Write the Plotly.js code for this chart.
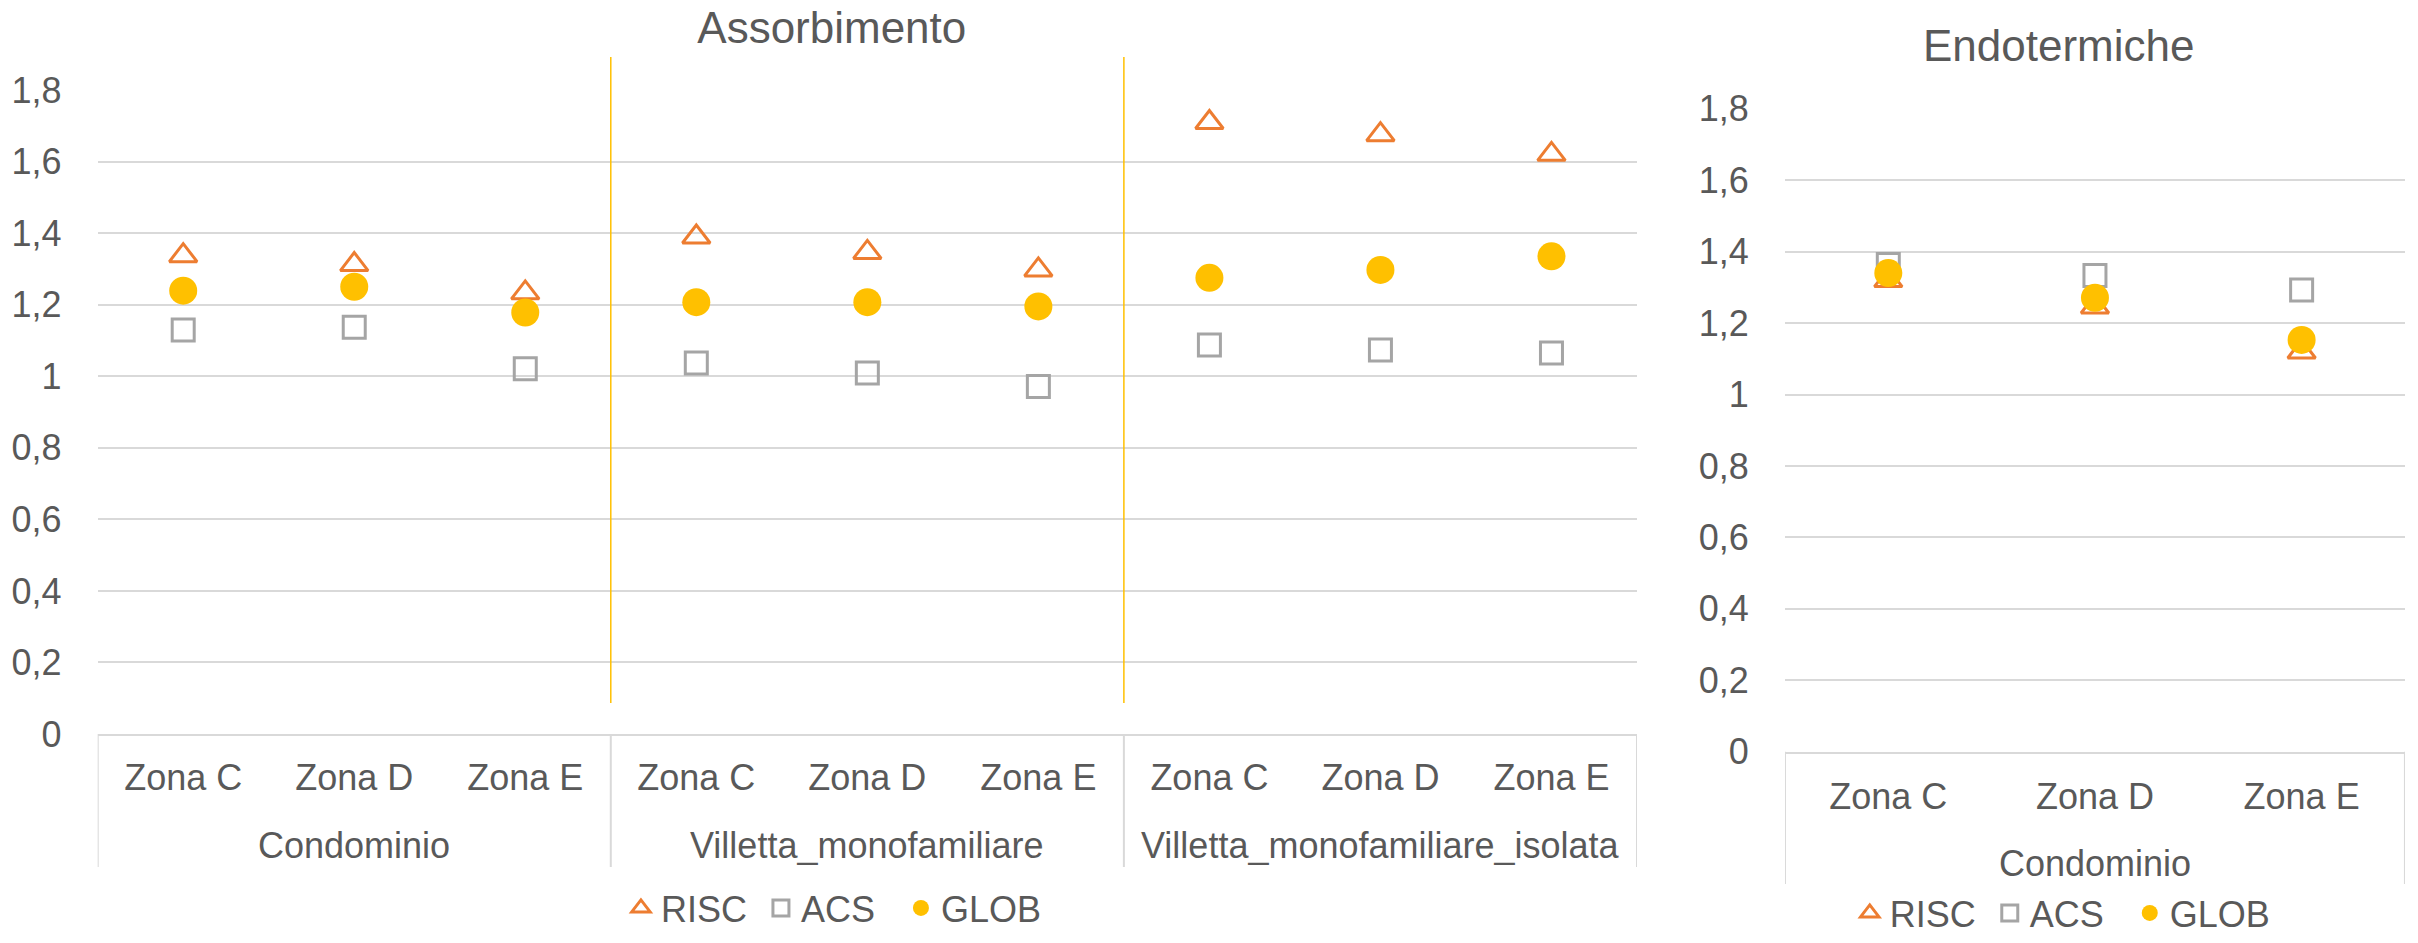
<!DOCTYPE html>
<html>
<head>
<meta charset="utf-8">
<script src="https://cdn.plot.ly/plotly-3.0.1.min.js"></script>
<style>html,body{margin:0;padding:0;background:#fff;}#chart{width:2418px;height:943px;}</style>
</head>
<body>
<div id="chart"></div>
<script>
// ---- Data ----
const groupsLeft = ['Condominio', 'Villetta_monofamiliare', 'Villetta_monofamiliare_isolata'];
const groupsRight = ['Condominio'];
const zones = ['Zona C', 'Zona D', 'Zona E'];

const assRISC = [1.337, 1.312, 1.233, 1.389, 1.346, 1.297, 1.709, 1.675, 1.620];
const assACS  = [1.129, 1.137, 1.021, 1.037, 1.009, 0.971, 1.087, 1.073, 1.065];
const assGLOB = [1.239, 1.250, 1.178, 1.207, 1.207, 1.195, 1.275, 1.297, 1.335];

const endRISC = [1.319, 1.245, 1.119];
const endACS  = [1.364, 1.333, 1.293];
const endGLOB = [1.340, 1.271, 1.153];

const yTicks = [0, 0.2, 0.4, 0.6, 0.8, 1, 1.2, 1.4, 1.6, 1.8];
const yTickText = ['0', '0,2', '0,4', '0,6', '0,8', '1', '1,2', '1,4', '1,6', '1,8'];

// ---- Category keys (group|zone) ----
function keys(groups) {
  const k = [], t = [];
  groups.forEach(g => zones.forEach(z => { k.push(g + '|' + z); t.push(z); }));
  return {k: k, t: t};
}
const catL = keys(groupsLeft);
const catR = keys(groupsRight);

const cOrange = '#ED7D31', cGrey = '#A5A5A5', cYellow = '#FFC000', cText = '#595959', cLine = '#D9D9D9';
const FONT = 'Liberation Sans, Arial, sans-serif';

function series(x, y, name, xa, ya, leg, kind) {
  let marker;
  if (kind === 'tri') marker = {symbol: 'triangle-up-open', size: 24, color: cOrange, line: {width: 3, color: cOrange}};
  else if (kind === 'sq') marker = {symbol: 'square-open', size: 22, color: cGrey, line: {width: 3, color: cGrey}};
  else marker = {symbol: 'circle', size: 28, color: cYellow, line: {width: 0}};
  return {type: 'scatter', mode: 'markers', x: x, y: y, name: name, xaxis: xa, yaxis: ya,
          legend: leg, marker: marker, cliponaxis: false, hoverinfo: 'skip'};
}

const data = [
  series(catL.k, assRISC, 'RISC', 'x', 'y', 'legend', 'tri'),
  series(catL.k, assACS, 'ACS', 'x', 'y', 'legend', 'sq'),
  series(catL.k, assGLOB, 'GLOB', 'x', 'y', 'legend', 'circ'),
  series(catR.k, endRISC, 'RISC', 'x2', 'y2', 'legend2', 'tri'),
  series(catR.k, endACS, 'ACS', 'x2', 'y2', 'legend2', 'sq'),
  series(catR.k, endGLOB, 'GLOB', 'x2', 'y2', 'legend2', 'circ')
];

function xAxis(domain, anchor, cat, len) {
  return {
    type: 'category', domain: domain, anchor: anchor, range: [-0.5, cat.k.length - 0.5],
    categoryorder: 'array', categoryarray: cat.k, tickmode: 'array', tickvals: cat.k, ticktext: cat.t,
    showgrid: false, zeroline: false, showline: true, linecolor: cLine, linewidth: 2,
    ticks: 'outside', ticklen: len, tickcolor: 'rgba(0,0,0,0)',
    tickfont: {family: FONT, size: 36, color: cText}, fixedrange: true
  };
}
function yAxis(domain, anchor) {
  return {
    domain: domain, anchor: anchor, range: [0, 1.8], tickvals: yTicks, ticktext: yTickText,
    showgrid: true, gridcolor: cLine, gridwidth: 2, zeroline: false, showline: false,
    ticks: 'outside', ticklen: 28, tickcolor: 'rgba(0,0,0,0)',
    tickfont: {family: FONT, size: 36, color: cText}, fixedrange: true
  };
}

// group labels (second category row) and group dividers
const annotations = [{text: 'Endotermiche', xref: 'paper', yref: 'paper', x: 0.8515, y: 0.952,
  xanchor: 'center', yanchor: 'middle', showarrow: false, font: {family: FONT, size: 44, color: cText}}];
const shapes = [];
function groupRow(groups, cat, xref, yTop, yBottom, yLabel) {
  groups.forEach((g, gi) => {
    annotations.push({text: g, xref: xref, yref: 'paper', x: cat.k[gi * zones.length + 1], y: yLabel,
      xanchor: 'center', yanchor: 'middle', showarrow: false, font: {family: FONT, size: 36, color: cText}});
  });
  for (let i = 0; i <= groups.length; i++) {
    const xb = i * zones.length - 0.5;
    shapes.push({type: 'line', xref: xref, yref: 'paper', x0: xb, x1: xb, y0: yTop, y1: yBottom,
      line: {color: cLine, width: 2}});
  }
}
groupRow(groupsLeft, catL, 'x', 0.2216, 1 - 867 / 943, 1 - 845 / 943);
groupRow(groupsRight, catR, 'x2', 0.2029, 1 - 884 / 943, 1 - 863 / 943);

// yellow separators between building types (left chart)
for (let i = 1; i < groupsLeft.length; i++) {
  const xb = i * zones.length - 0.5;
  shapes.push({type: 'line', xref: 'x', yref: 'paper', x0: xb, x1: xb, y0: 1 - 703 / 943, y1: 1 - 57 / 943,
    line: {color: cYellow, width: 1.5}});
}

const legendStyle = {orientation: 'h', font: {family: FONT, size: 36, color: cText},
  bgcolor: 'rgba(0,0,0,0)', xanchor: 'left', entrywidth: 95, entrywidthmode: 'pixels',
  itemclick: false, itemdoubleclick: false};

const layout = {
  width: 2418, height: 943, margin: {l: 0, r: 0, t: 0, b: 0, autoexpand: false},
  paper_bgcolor: '#fff', plot_bgcolor: 'rgba(0,0,0,0)',
  font: {family: FONT, color: cText},
  title: {text: 'Assorbimento', x: 0.344, xanchor: 'center', y: 0.971, yanchor: 'middle',
          font: {family: FONT, size: 44, color: cText}},
  xaxis: xAxis([0.0404, 0.677], 'y', catL, 11),
  yaxis: yAxis([0.2216, 0.9046], 'x'),
  xaxis2: xAxis([0.7382, 0.9946], 'y2', catR, 12),
  yaxis2: yAxis([0.2029, 0.8846], 'x2'),
  legend: Object.assign({x: 0.2568, y: 1 - 908 / 943, yanchor: 'middle'}, legendStyle),
  legend2: Object.assign({x: 0.765, y: 0, yanchor: 'bottom'}, legendStyle),
  annotations: annotations,
  shapes: shapes
};

Plotly.newPlot('chart', data, layout, {staticPlot: true, displayModeBar: false});
</script>
</body>
</html>
